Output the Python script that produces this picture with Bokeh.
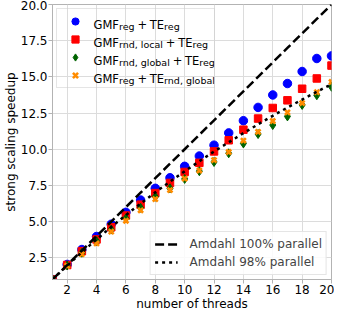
from bokeh.plotting import figure
from bokeh.models import (Range1d, FixedTicker, NumeralTickFormatter, Legend, LegendItem,
                          ColumnDataSource)
from bokeh.core.properties import value
from bokeh.embed import file_html
from bokeh.resources import INLINE

threads = list(range(1, 21))
gmf_reg_te_reg = [1.0, 2.04, 3.07, 3.97, 4.82, 5.64, 6.49, 7.30, 8.03, 8.82,
                  9.53, 10.28, 11.13, 11.97, 12.89, 13.75, 14.54, 15.37, 16.27, 16.45]
gmf_rnd_local_te_reg = [1.0, 2.0, 2.96, 3.77, 4.61, 5.42, 6.17, 6.97, 7.67, 8.43,
                        9.06, 9.85, 10.62, 11.35, 12.12, 12.85, 13.38, 14.18, 14.89, 15.78]
gmf_rnd_global_te_reg = [1.0, 1.97, 2.85, 3.65, 4.45, 5.22, 5.95, 6.72, 7.30, 7.95,
                         8.48, 9.12, 9.72, 10.40, 11.05, 11.67, 12.27, 13.06, 13.73, 14.31]
gmf_reg_te_rnd_global = [1.0, 1.95, 2.75, 3.49, 4.31, 5.06, 5.78, 6.55, 7.18, 7.97,
                         8.53, 9.25, 9.81, 10.60, 11.20, 11.95, 12.55, 13.19, 13.94, 14.65]
amdahl_100 = [1, 2, 3, 4, 5, 6, 7, 8, 9, 10, 11, 12, 13, 14, 15, 16, 17, 18, 19, 20]
amdahl_98 = [1.0, 1.96, 2.88, 3.77, 4.63, 5.45, 6.25, 7.02, 7.76, 8.47,
             9.17, 9.84, 10.48, 11.11, 11.72, 12.31, 12.88, 13.43, 13.97, 14.49]
x_ticks = [2, 4, 6, 8, 10, 12, 14, 16, 18, 20]
y_ticks = [2.5, 5.0, 7.5, 10.0, 12.5, 15.0, 17.5, 20.0]
legend1_rows = [("GMF", "reg", "TE", "reg"),
                ("GMF", "rnd, local", "TE", "reg"),
                ("GMF", "rnd, global", "TE", "reg"),
                ("GMF", "reg", "TE", "rnd, global")]
legend2_labels = ["Amdahl 100% parallel", "Amdahl 98% parallel"]

FONT = "DejaVu Sans"
GRID = "#dcdcdc"
SPINE = "#b3b3b3"

p = figure(width=334, height=313, output_backend="svg", toolbar_location=None,
           x_range=Range1d(1, 20), y_range=Range1d(1, 20),
           min_border_top=4, min_border_right=3, min_border_left=5, min_border_bottom=0)
p.background_fill_color = "white"
p.border_fill_color = "white"
p.outline_line_color = SPINE
p.outline_line_width = 1

p.xaxis.ticker = FixedTicker(ticks=x_ticks)
p.yaxis.ticker = FixedTicker(ticks=y_ticks)
p.yaxis.formatter = NumeralTickFormatter(format="0.0")
p.xaxis.axis_label = "number of threads"
p.yaxis.axis_label = "strong scaling speedup"
for ax in (p.xaxis, p.yaxis):
    ax.axis_label_text_font = FONT
    ax.axis_label_text_font_size = "12px"
    ax.axis_label_text_font_style = "normal"
    ax.axis_label_text_color = "black"
    ax.axis_label_standoff = 0
    ax.major_label_text_font = FONT
    ax.major_label_text_font_size = "12px"
    ax.major_label_text_color = "black"
    ax.major_label_standoff = 1
    ax.axis_line_color = SPINE
    ax.major_tick_line_color = SPINE
    ax.major_tick_out = 4
    ax.major_tick_in = 0
    ax.minor_tick_line_color = None
p.grid.grid_line_color = GRID
p.grid.grid_line_width = 1

r1 = p.scatter(threads, gmf_reg_te_reg, marker="circle", size=8.5, color="blue")
r2 = p.scatter(threads, gmf_rnd_local_te_reg, marker="square", size=7.5, color="red")
r3 = p.scatter(threads, gmf_rnd_global_te_reg, marker="diamond", size=9, color="darkgreen")
r4 = p.scatter(threads, gmf_reg_te_rnd_global, marker="x", size=7, line_width=2.6,
               color="darkorange")
l1 = p.line(threads, amdahl_100, line_color="black", line_width=2.5, line_dash="9 4")
l2 = p.line(threads, amdahl_98, line_color="black", line_width=2.5, line_dash="3 4")

leg1 = Legend(items=[LegendItem(label=" ", renderers=[r]) for r in (r1, r2, r3, r4)],
              location="top_left", margin=4, padding=3, spacing=0,
              glyph_height=18, glyph_width=30, label_height=15, label_width=121,
              label_standoff=0, label_text_font_size="6px",
              border_line_color="#cccccc", border_line_width=1,
              background_fill_color="white", background_fill_alpha=0.0)
leg2 = Legend(items=[LegendItem(label=legend2_labels[0], renderers=[l1]),
                     LegendItem(label=legend2_labels[1], renderers=[l2])],
              location="bottom_right", margin=4, padding=4, spacing=2,
              glyph_height=16, glyph_width=23, label_height=16,
              label_standoff=12, label_text_font=FONT, label_text_font_size="12px",
              border_line_color="#cccccc", border_line_width=1,
              background_fill_color="white", background_fill_alpha=0.85)
p.add_layout(leg1)
p.add_layout(leg2)

# DejaVu Sans advance widths (em) for laying out the legend's sub-scripted text
W = {" ": .318, "+": .838, ",": .318, "E": .632, "F": .575, "G": .779, "M": .863,
     "T": .611, "a": .613, "b": .635, "d": .635, "e": .615, "g": .635, "l": .278,
     "n": .634, "o": .612, "r": .411, "c": .550}


def tw(s, size):
    return sum(W.get(ch, .6) for ch in s) * size


BASE = 11.5
SUB = 9.5
GAP = 2.7
SUB_DROP = 2.0
cols = {"x": [], "y": [], "text": [], "xo": [], "yo": [], "fs": []}
for i, (a, asub, b, bsub) in enumerate(legend1_rows):
    base_y = 20 + 18 * i
    xpos = 41.0
    pieces = []
    pieces.append((a, xpos, BASE, 0))
    xpos += tw(a, BASE)
    pieces.append((asub, xpos, SUB, SUB_DROP))
    xpos += tw(asub, SUB) + GAP
    pieces.append(("+", xpos, BASE, 0))
    xpos += tw("+", BASE) + GAP
    pieces.append((b, xpos, BASE, 0))
    xpos += tw(b, BASE)
    pieces.append((bsub, xpos, SUB, SUB_DROP))
    for txt, xo, fs, dy in pieces:
        cols["x"].append(1)
        cols["y"].append(20)
        cols["text"].append(txt)
        cols["xo"].append(round(xo, 1))
        cols["yo"].append(base_y + dy)
        cols["fs"].append(f"{fs}px")
src = ColumnDataSource(cols)
p.text(x="x", y="y", text="text", x_offset="xo", y_offset="yo", text_font_size="fs",
       text_font=value(FONT), text_color="black", text_align="left",
       text_baseline="alphabetic", source=src, level="overlay")

open("out.html", "w").write(file_html(p, INLINE))
